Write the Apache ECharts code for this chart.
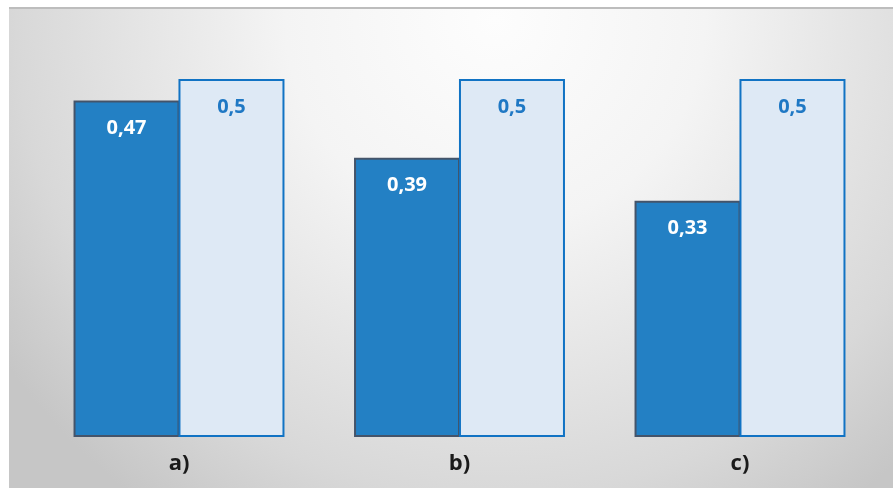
<!DOCTYPE html>
<html>
<head>
<meta charset="utf-8">
<style>
  html, body { margin: 0; padding: 0; background: #ffffff; }
  #chart { width: 893px; height: 488px; }
</style>
<script src="https://cdn.jsdelivr.net/npm/echarts@6/dist/echarts.min.js"></script>
</head>
<body>
<div id="chart"></div>
<script>
// Categories and values
const categories = ['a)', 'b)', 'c)'];
const measured = [0.47, 0.39, 0.33];
const reference = [0.5, 0.5, 0.5];

const fmt = p => String(p.value).replace('.', ',');
const labelFont = '"Open Sans", "Noto Sans", sans-serif';

const chart = echarts.init(document.getElementById('chart'), null, { renderer: 'canvas' });

chart.setOption({
  backgroundColor: '#ffffff',
  animation: false,
  graphic: [
    {
      type: 'rect',
      z: -10,
      silent: true,
      shape: { x: 9, y: 9, width: 884, height: 479 },
      style: {
        fill: {
          type: 'radial',
          x: 0.55, y: 0.02, r: 1.25,
          colorStops: [
            { offset: 0, color: '#fdfdfd' },
            { offset: 0.35, color: '#f4f4f4' },
            { offset: 0.8, color: '#d8d8d8' },
            { offset: 1, color: '#c6c6c6' }
          ]
        }
      }
    },
    {
      type: 'line',
      z: -9,
      silent: true,
      shape: { x1: 9, y1: 8, x2: 893, y2: 8 },
      style: { stroke: '#bdbdbd', lineWidth: 2 }
    }
  ],
  grid: { left: 38.75, right: 12.75, top: 43.2, bottom: 51, containLabel: false },
  xAxis: {
    type: 'category',
    data: categories,
    axisLine: { show: false },
    axisTick: { show: false },
    axisLabel: {
      color: '#1a1a1a',
      fontSize: 22,
      fontWeight: 'bold',
      fontFamily: labelFont,
      margin: 16
    }
  },
  yAxis: {
    type: 'value',
    min: 0,
    max: 0.55,
    show: false,
    splitLine: { show: false }
  },
  series: [
    {
      type: 'bar',
      data: measured,
      barWidth: 106,
      barGap: '-1%',
      itemStyle: { color: '#2380c4', borderColor: '#44546a', borderWidth: 2 },
      label: {
        show: true,
        position: 'insideTop',
        distance: 18,
        formatter: fmt,
        color: '#ffffff',
        fontSize: 20,
        fontWeight: 'bold',
        fontFamily: labelFont
      }
    },
    {
      type: 'bar',
      data: reference,
      barWidth: 106,
      barGap: '-1%',
      itemStyle: { color: '#dee9f5', borderColor: '#1173c4', borderWidth: 2 },
      label: {
        show: true,
        position: 'insideTop',
        distance: 18,
        formatter: fmt,
        color: '#1f78c4',
        fontSize: 20,
        fontWeight: 'bold',
        fontFamily: labelFont
      }
    }
  ]
});
</script>
</body>
</html>
